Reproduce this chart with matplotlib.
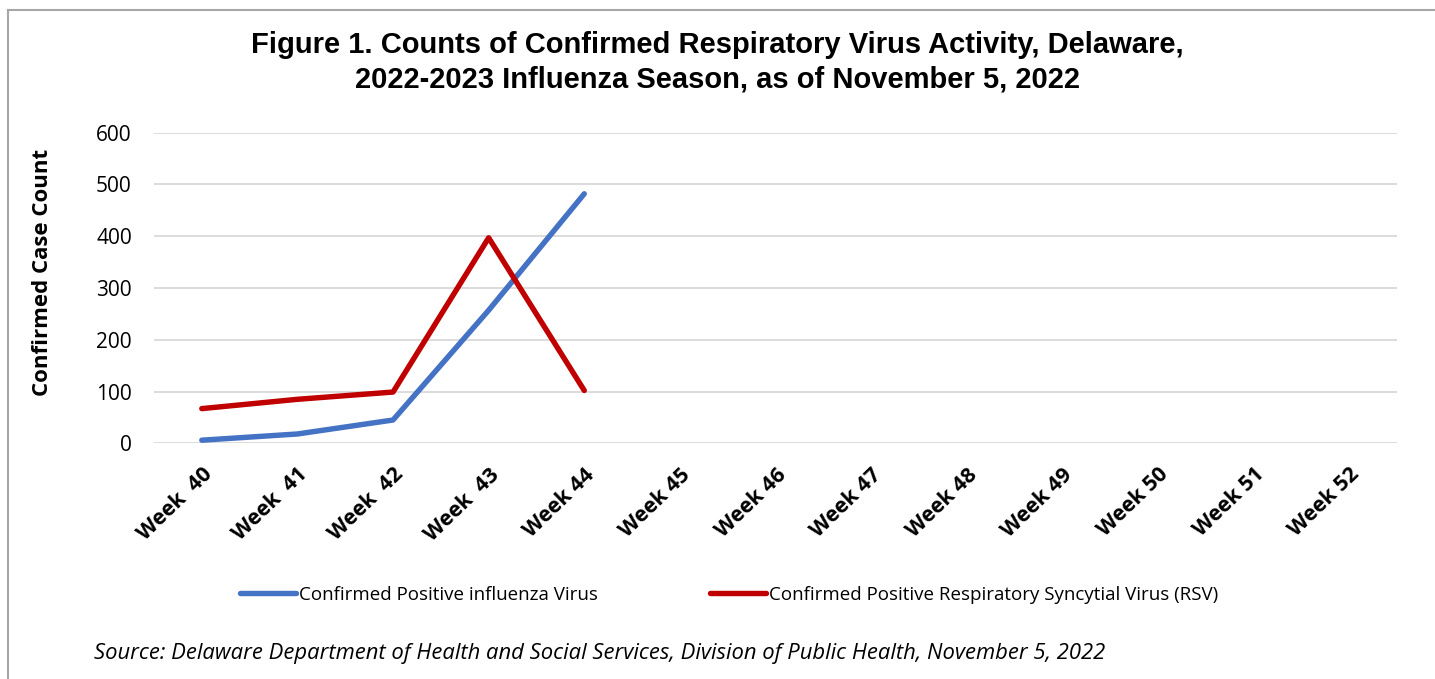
import matplotlib.pyplot as plt
from matplotlib.lines import Line2D

weeks = ["Week  40", "Week  41", "Week  42", "Week  43", "Week 44", "Week 45", "Week 46",
         "Week 47", "Week 48", "Week 49", "Week 50", "Week 51", "Week 52"]
flu = [6, 18, 45, 257, 482]
rsv = [67, 85, 99, 397, 102]
flu_label = "Confirmed Positive influenza Virus"
rsv_label = "Confirmed Positive Respiratory Syncytial Virus (RSV)"

W, H = 1435, 679
fig = plt.figure(figsize=(W / 100, H / 100), dpi=100)

# plot area in pixels: x 154..1397, y 132.7..443.3 (0..600)
x0, x1 = 154, 1397
ytop, ybot = 132.7, 443.3
ax = fig.add_axes([x0 / W, 1 - ybot / H, (x1 - x0) / W, (ybot - ytop) / H])

pos = list(range(len(weeks)))
ax.plot(pos[:len(flu)], flu, color="#4472C4", lw=3.9, solid_capstyle="round", solid_joinstyle="round")
ax.plot(pos[:len(rsv)], rsv, color="#C00000", lw=3.9, solid_capstyle="round", solid_joinstyle="round")

ax.set_xlim(-0.5, len(weeks) - 0.5)
ax.set_ylim(0, 600)
ax.set_yticks(range(0, 601, 100))
ax.yaxis.grid(True, color="#D9D9D9", lw=1.3)
ax.set_axisbelow(True)
for s in ax.spines.values():
    s.set_visible(False)
ax.tick_params(axis="x", length=0, pad=15)
ax.tick_params(axis="y", length=0, labelsize=15, pad=16)
for t in ax.get_yticklabels():
    t.set_fontfamily("Open Sans")

ax.set_xticks(pos)
ax.set_xticklabels(weeks, rotation=44, ha="right", rotation_mode="anchor",
                   fontsize=15.5, fontweight="bold", fontfamily="Open Sans")

ax.set_ylabel("Confirmed Case Count", fontsize=16, fontweight="bold", fontfamily="Open Sans")
ax.yaxis.set_label_coords(-0.081, 0.55)

fig.text(0.5, 1 - 45 / H, "Figure 1. Counts of Confirmed Respiratory Virus Activity, Delaware,",
         ha="center", va="center", fontsize=21, fontweight="bold", fontfamily="Liberation Sans")
fig.text(0.5, 1 - 80 / H, "2022-2023 Influenza Season, as of November 5, 2022",
         ha="center", va="center", fontsize=21, fontweight="bold", fontfamily="Liberation Sans")

handles = [Line2D([], [], color="#4472C4", lw=3.9, solid_capstyle="round"),
           Line2D([], [], color="#C00000", lw=3.9, solid_capstyle="round")]
fig.legend(handles, [flu_label, rsv_label], loc="center", bbox_to_anchor=(0.508, 1 - 595 / H),
           ncol=2, frameon=False, handlelength=3.0, handletextpad=0.15, columnspacing=6.0,
           prop={"family": "Open Sans", "size": 13.5})

fig.text(94 / W, 1 - 654 / H,
         "Source: Delaware Department of Health and Social Services, Division of Public Health, November 5, 2022",
         ha="left", va="center", fontsize=15.8, fontstyle="italic", fontfamily="Open Sans")

# outer chart frame (top and left edges visible)
fig.add_artist(Line2D([8 / W, 8 / W], [0, 1 - 10 / H], transform=fig.transFigure, color="#A6A6A6", lw=1.5))
fig.add_artist(Line2D([8 / W, 1], [1 - 10 / H, 1 - 10 / H], transform=fig.transFigure, color="#A6A6A6", lw=1.5))

fig.savefig("out.png", dpi=100)
